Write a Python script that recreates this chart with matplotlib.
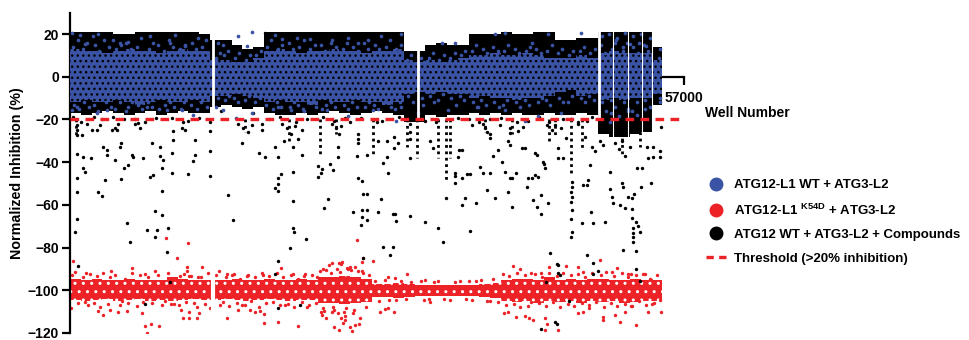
import numpy as np
import matplotlib
matplotlib.use("Agg")
import matplotlib.pyplot as plt
from matplotlib.lines import Line2D

plt.rcParams["font.family"] = ["Liberation Sans", "DejaVu Sans"]
plt.rcParams["font.weight"] = "bold"
plt.rcParams["mathtext.fontset"] = "custom"
plt.rcParams["mathtext.bf"] = "Liberation Sans:bold"
plt.rcParams["mathtext.rm"] = "Liberation Sans:bold"
plt.rcParams["hatch.linewidth"] = 1.0

BLUE = "#3a53a4"
RED = "#ec2227"

# dense clouds read as envelopes, one value per 1000-well bin (wells 0..55000)
bin_width = 1000
black_top = [21, 21, 21, 21, 20, 20, 21, 21, 21, 21, 21, 21, 20,
             17, 17, 15, 13, 14,
             21, 21, 21, 21, 21, 21, 21, 21, 21, 21, 21, 21, 21,
             12, 12,
             15, 16, 15, 15,
             20, 20, 20, 21, 20, 20, 21, 21,
             17, 17,
             18, 18,
             21, 21, 21, 21, 21,
             14]
black_bottom = [-17, -18, -17, -16, -17, -18, -17, -16, -18, -17, -16, -17, -17,
                -14, -13, -14, -15, -14,
                -17, -18, -18, -17, -18, -17, -16, -17, -18, -17, -16, -17, -18,
                -21, -21,
                -18, -19, -18, -18,
                -17, -18, -17, -18, -17, -18, -18, -17,
                -18, -18,
                -17, -18,
                -27, -28, -28, -27, -26,
                -13]
blue_top = [13, 12, 12, 11, 12, 13, 12, 12, 11, 12, 13, 12, 12,
            8, 8, 7, 7, 9,
            12, 13, 12, 11, 12, 12, 13, 12, 12, 11, 12, 12, 13,
            8, 7,
            8, 7, 8, 9,
            10, 10, 11, 10, 10, 11, 10, 9,
            9, 9,
            10, 9,
            11, 12, 11, 11, 11,
            8]
blue_bottom = [-12, -11, -12, -12, -11, -12, -13, -12, -11, -12, -12, -11, -12,
               -9, -9, -8, -9, -10,
               -12, -11, -12, -12, -13, -11, -12, -12, -11, -12, -12, -13, -12,
               -8, -7,
               -8, -7, -8, -8,
               -10, -9, -10, -10, -11, -10, -10, -9,
               -7, -6,
               -9, -8,
               -11, -10, -11, -10, -10,
               -8]
red_top = [-94.5, -95, -94.5, -95, -95, -94.5, -95, -95, -95, -94, -94.5, -95, -95,
           -95, -95, -94.5, -95, -95, -94.5, -95, -95, -94.5, -95,
           -94, -94, -93.5, -94, -94.5,
           -97, -97, -96.5, -97, -97.5, -97.5, -97.5, -97.5, -97.5, -97.5, -97, -96.5,
           -95, -94.5, -94.5, -95, -94, -95, -94.5, -95, -94.5, -94.5, -95, -95, -94.5, -95, -95]
red_bottom = [-104.5, -105, -104.5, -104, -105, -104.5, -104, -105, -104.5, -105, -104.5, -104, -104.5,
              -104.5, -104, -104.5, -105, -104.5, -104, -104.5, -105, -104.5, -104.5,
              -106, -106, -106.5, -106, -105.5,
              -103, -103, -103.5, -103, -102.5, -102.5, -102.5, -102.5, -102.5, -102.5, -103, -103.5,
              -105, -105.5, -105, -106, -105, -105.5, -105, -106, -105, -105.5, -105, -106, -105.5, -105, -105]

# vertical white gaps between plates / columns
plate_gaps = [13300, 32300, 49100]
column_gaps = [50400, 51800, 53100, 54000]

# streaky compound columns hanging below the dense band (well, lowest value)
compound_streaks = [(560, -28), (23200, -37), (28120, -36), (31270, -33), (32170, -38),
                    (34150, -38), (34900, -49), (35260, -38), (46490, -46), (51230, -37),
                    (52900, -33), (20300, -30), (44500, -31), (47500, -35), (16200, -26),
                    (24700, -27), (38500, -26), (41000, -27), (45000, -28)]

compound_hits = [
    (622, -22.5), (622, -24.8), (622, -27.5), (622, -36.1), (622, -47.2), (622, -54.2), (622, -66.4),
    (464, -72.8), (715, -88.4), (1141, -27.5), (1234, -37.4), (1234, -42.8), (1392, -44.7), (1949, -38.1),
    (1550, -22), (2014, -24.8), (2478, -24.8), (2784, -22.5), (2626, -53.8), (2942, -55.8), (3248, -48.3),
    (3090, -33), (3406, -34.5), (3461, -36.5), (3870, -25), (4176, -24), (4334, -25), (4482, -22),
    (4176, -38.9), (4640, -32.7), (4733, -31), (5039, -42.7), (5410, -41.3), (5262, -68.6), (4733, -47.8),
    (5568, -77.2), (5726, -36.6), (5874, -37.4), (6032, -22), (6283, -21.5), (6496, -24), (6802, -38),
    (7118, -71.7), (7582, -31), (7424, -47), (7730, -46), (7888, -62.7), (8046, -71.7), (7888, -74.9),
    (8510, -53.4), (8510, -64.7), (8510, -42.7), (8352, -33), (8352, -37), (8658, -39), (8974, -81.9),
    (9067, -71), (9438, -35.8), (9438, -45.2), (9586, -29.5), (9586, -25.6), (10366, -24), (10672, -25),
    (10922, -45.6), (11442, -39.4), (11600, -36.6), (11600, -29.5), (12992, -25.6), (12992, -35),
    (12992, -46.7), (14690, -55.6), (15154, -67.2), (15600, -22), (16100, -24), (16500, -26),
    (16900, -22.5), (15934, -31), (17539, -35.8), (18096, -37.5), (17818, -22), (17818, -25),
    (19024, -32.7), (19330, -37.4), (19302, -47.5), (19302, -50), (19302, -53.5), (19024, -52),
    (19581, -45.6), (19700, -22), (20100, -24), (20500, -27), (20900, -23), (21200, -29), (21500, -25),
    (19900, -30), (20700, -33), (20722, -44.4), (20722, -58), (20722, -71), (20800, -72.5),
    (20416, -80.3), (19275, -86.3), (21502, -36.6), (21901, -76), (23000, -41.7), (23400, -43),
    (23000, -46.9), (23300, -45), (23970, -57.2), (23600, -61.6), (24128, -41), (24406, -43.6),
    (24300, -22), (24700, -24), (25000, -27), (25200, -23), (24898, -33), (24898, -37.4), (26290, -63.2),
    (26754, -27), (26754, -29), (26754, -31), (26606, -36.9), (26754, -47.2), (27070, -49),
    (27100, -65.5), (27100, -62.4), (27005, -69.4), (27190, -55), (27190, -85),
    (6960, -106.6), (9300, -96), (19330, -108.4), (19020, -92.5), (21340, -107), (18100, 20.5),
    (28580, -30.3), (27530, -36.6), (27530, -54.9), (27530, -62.4), (27530, -67), (28610, -63.4),
    (28830, -57.2), (29070, -40.5), (29070, -79.5), (29390, -37.4), (29390, -30.3), (29540, -45.2),
    (29700, -83.4), (29950, -64.2), (30160, -64.2), (30000, -79.5), (30230, -67.4), (30100, -28),
    (30100, -33.4), (30470, -31), (31550, -22), (31550, -26), (31550, -29), (31550, -38), (31550, -65),
    (32940, -67.8), (33410, -30.3), (33710, -33.4), (34120, -71), (34640, -77.5), (34900, -56.9),
    (35730, -45), (35730, -46.5), (35730, -49.8), (36100, -34.5), (36380, -34.5), (36030, -37.4),
    (36350, -60), (36400, -47.5), (36660, -56.9), (36900, -45.6), (37100, -45.6), (37120, -72.2),
    (37280, -22.5), (37680, -59.2), (38050, -42.3), (38300, -22), (38500, -24), (38700, -26),
    (38350, -45.2), (38670, -53), (38980, -27), (38980, -28.5), (38980, -45.2), (39280, -36.9),
    (39440, -56.6), (39750, -34.2), (39900, -22.5), (40060, -39.7), (40370, -44.4), (40650, -30.3),
    (40830, -31.9), (40670, -54), (40830, -24), (40830, -26.3), (40830, -47.2), (41020, -47.2),
    (41040, -60.8), (41450, -45.2), (41600, -25.6), (41950, -33.4), (42220, -33.4), (42060, -23.3),
    (42380, -51.4), (42500, -47.3), (42870, -47.3), (42990, -57.7), (43150, -46), (43430, -47),
    (43310, -60.8), (43770, -64.4), (43770, -55.3), (43150, -35.6), (43340, -36.5), (43900, -39.7),
    (44000, -41), (44100, -42.8), (44390, -59.2), (44540, -82.6), (44270, -22.5), (44730, -25),
    (45000, -22.5), (45600, -24), (46000, -28.5), (45310, -33.4), (45310, -38), (45780, -38),
    (45220, -87.8), (46600, -49.1), (46600, -51.4), (46500, -53.8), (46600, -56.1), (46500, -58.5),
    (46600, -62.4), (46500, -66.6), (46600, -72.5), (46500, -74.9), (47150, -22), (47800, -28),
    (47490, -68.6), (47600, -50.6), (47980, -50.6), (48100, -48.3), (47950, -83.4), (48350, -63.2),
    (48560, -87.3), (48260, -41.3), (48560, -68.6), (48440, -33), (48720, -35), (49200, -30),
    (49500, -32), (49650, -67.8), (50110, -44.4), (50110, -52.5), (50300, -56.1), (50420, -59.2),
    (50600, -31), (51000, -34), (51500, -37), (52000, -33), (51200, -30), (51040, -60), (51500, -61.6),
    (51230, -49.8), (51320, -51.4), (51350, -81.1), (51810, -56.1), (52150, -56.6), (52150, -62),
    (52150, -66.2), (52220, -71), (52220, -73), (52220, -75), (52220, -77.2), (52520, -68),
    (52700, -70), (52900, -72.5), (52590, -81.6), (52400, -55), (52620, -42.8), (53080, -42.8),
    (52990, -51.4), (53980, -49.8), (53540, -33), (53640, -38), (54100, -32.7), (54100, -37.6),
    (54750, -35), (54750, -37.8), (54910, -23.3),
    (45280, -88.1), (48560, -92.4), (49020, -90.8), (52590, -90.2), (52900, -95.5), (44210, -96),
    (45470, -92.8), (46310, -104.9), (45000, -114.7), (45200, -115.8), (43770, -118.3), (45300, -91.8),
    (2200, -19), (5000, -20), (8000, -19.5), (11000, -20.5), (14000, -16), (17000, -17),
    (22000, -20), (25500, -19.5), (29000, -20.5), (33000, -20.5), (37000, -20), (40000, -19.5),
    (42500, -20.5), (45800, -20), (48000, -20.5), (300, -19), (1000, -21), (3000, -20), (4000, -19),
    (6000, -20), (7000, -21), (9500, -19.5), (10500, -21), (12000, -19.5), (13000, -21),
    (18500, -20), (19500, -19), (21000, -21), (23500, -19), (24500, -20.5), (26000, -21),
    (27000, -19.5), (28500, -21), (30500, -19), (34000, -21), (36000, -19.5), (38000, -21),
    (39000, -20), (41500, -21), (43500, -19), (44500, -21), (46500, -20), (47200, -21), (48500, -19),
]

wt_scatter = [
    (160, 20.5), (930, 19.7), (2160, 19), (2630, 20), (1390, 15.5), (4000, 17), (4640, 16),
    (5410, 16.5), (7450, 19), (9300, 16), (9740, 19.5), (10670, 14.5), (11900, 18), (13750, 16),
    (14220, 15), (15620, 19), (16860, 21), (16400, 14.5), (19020, 19.5), (19640, 17.5), (21100, 18),
    (22300, 17.5), (24200, 16), (25800, 18), (26700, 16), (160, -15.5), (620, -14), (2470, -17),
    (3400, -15.5), (5240, -16), (7130, -14), (9000, -15.5), (10400, -15.5), (11450, -17.7),
    (13600, -14), (14200, -15.5), (15400, -19.5), (16860, -17), (19300, -14), (20500, -15.5),
    (21700, -16), (23900, -15.5), (25800, -18.5), (27680, 17), (28900, 19), (30760, 20),
    (34500, 16), (35740, 16), (39440, 20), (40380, 20.5), (42860, 16), (44400, 20), (47480, 20.5),
    (49400, 19), (50000, 20), (50800, 18), (51500, 20.5), (52300, 19), (53000, 20), (53800, 18),
    (54750, 13), (28100, -15.5), (30760, -14), (32300, -17), (35100, -15.5), (37900, -14),
    (40380, -15.5), (43460, -18.5), (45600, -17), (46530, -20), (50200, -17), (51000, -18.5),
    (51800, -16), (52600, -18), (53400, -15), (54750, -10), (30250, -20.5), (42200, -20.5),
    (50100, -21), (50600, 16), (51300, 14), (52000, 15.5), (52800, 16), (53500, 14.5),
    (300, 14), (700, 17), (400, -13), (800, -15), (1200, 13), (1600, 16), (1300, -12), (1800, -14),
    (2300, 15), (2700, 12), (2200, -13), (2600, -16), (3200, 17), (3600, 14), (3300, -12), (3800, -14),
    (4300, 13), (4700, 15), (4200, -15), (4600, -12), (5200, 16), (5700, 13), (5400, -14), (5800, -12),
    (6200, 14), (6600, 18), (6300, -13), (6700, -15), (7300, 13), (7700, 16), (7200, -12), (7600, -14),
    (8200, 15), (8700, 12), (8300, -15), (8800, -13), (9200, 17), (9600, 14), (9300, -12), (9700, -14),
    (10200, 13), (10700, 15), (10300, -15), (10600, -12), (11300, 16), (11700, 13), (11200, -13),
    (11800, -15), (12300, 14), (12600, 17), (12200, -12), (12700, -14), (13600, 9), (13900, 11),
    (13700, -10), (14300, 10), (14700, 12), (14400, -11), (14800, -9), (15300, 9), (15700, 11),
    (15200, -10), (15600, -12), (16300, 8), (16700, 10), (16200, -11), (16600, -9), (17300, 10),
    (17700, 12), (17200, -12), (17600, -10), (18300, 14), (18700, 17), (18200, -13), (18800, -15),
    (19300, 13), (19700, 15), (19200, -12), (19600, -14), (20300, 16), (20700, 13), (20400, -14),
    (20800, -12), (21300, 14), (21700, 17), (21200, -13), (21600, -15), (22300, 13), (22700, 15),
    (22200, -12), (22800, -14), (23300, 15), (23700, 12), (23400, -15), (23800, -13), (24300, 17),
    (24700, 14), (24200, -12), (24600, -14), (25300, 13), (25700, 16), (25400, -13), (25800, -15),
    (26300, 14), (26700, 12), (26200, -12), (26600, -14), (27300, 16), (27700, 13), (27400, -14),
    (27800, -12), (28300, 15), (28700, 13), (28200, -13), (28600, -15), (29300, 14), (29700, 17),
    (29400, -12), (29800, -14), (30300, 13), (30700, 15), (30200, -15), (30600, -12), (31300, 8),
    (31700, 10), (31400, -9), (31800, -12), (32600, 9), (32900, 7), (32700, -10), (32800, -13),
    (33300, 9), (33700, 11), (33400, -9), (33800, -12), (34300, 8), (34700, 10), (34200, -11),
    (34600, -8), (35300, 9), (35700, 11), (35400, -10), (35800, -13), (36300, 10), (36700, 12),
    (36200, -9), (36600, -11), (37300, 12), (37700, 15), (37400, -12), (37800, -14), (38300, 13),
    (38700, 11), (38200, -11), (38600, -13), (39300, 14), (39700, 12), (39400, -12), (39800, -14),
    (40300, 12), (40700, 15), (40200, -13), (40600, -11), (41300, 13), (41700, 11), (41400, -12),
    (41800, -14), (42300, 12), (42700, 14), (42200, -11), (42600, -13), (43300, 13), (43700, 11),
    (43400, -12), (43800, -10), (44300, 12), (44700, 15), (44200, -11), (44600, -13), (45300, 11),
    (45700, 13), (45400, -10), (45800, -12), (46300, 10), (46700, 12), (46200, -12), (46600, -9),
    (47300, 12), (47700, 14), (47400, -10), (47800, -12), (48300, 11), (48700, 13), (48200, -9),
    (48600, -11), (49300, 15), (49700, 11), (49400, -12), (49800, -16), (50300, 13), (50700, 17),
    (50200, -11), (50600, -14), (51300, 12), (51700, 16), (51400, -12), (51800, -15), (52300, 14),
    (52700, 11), (52200, -16), (52600, -12), (53300, 15), (53700, 12), (53400, -11), (53800, -14),
    (54700, 9), (54800, -12),
]

k54d_scatter = [
    (306, -86.1), (100, -108.4), (5725, -89.7), (9900, -85), (10900, -88.9), (12220, -88.9),
    (10230, -93.3), (10860, -90.8), (11060, -93.5), (11900, -94), (2600, -109.5), (3090, -111.6),
    (3710, -109), (4490, -110.3), (5260, -109.5), (6650, -110.8), (6960, -116.7), (7130, -120),
    (7500, -116), (8230, -116.7), (9650, -106.5), (10300, -109), (10450, -113), (11060, -110),
    (11060, -113), (11820, -113), (12000, -110.5), (12990, -108.4), (14540, -92.4), (15000, -93),
    (16400, -93.3), (17930, -92.8), (14540, -113), (15600, -109), (16700, -109), (17130, -110.3),
    (17600, -109.5), (18000, -111), (18000, -115.5), (19330, -114.7), (21190, -116.7), (19600, -89.5),
    (20700, -92.4), (21700, -93.4), (22900, -93.8), (23350, -111.6), (24280, -87), (25200, -87.5),
    (25850, -90.2), (26470, -89), (27090, -90.8), (24280, -110), (25200, -113), (25350, -115.5),
    (25970, -117), (26440, -116.3), (26900, -113), (24900, -110.8), (25500, -112), (8880, -75.3),
    (10920, -77.7), (26600, -76.4), (27070, -86.9), (25210, -86.9), (27200, -85), (28150, -86.1),
    (31250, -92.4), (30160, -94.4), (41140, -88.6), (41760, -90.2), (42840, -91.7), (43700, -91.7),
    (46030, -88.6), (47170, -89), (47630, -91.3), (49180, -85.8), (50300, -91.3), (51800, -92.4),
    (52100, -92.4), (53360, -92.4), (53980, -95.2), (28770, -110), (29540, -108.4), (29240, -108.9),
    (30100, -110), (33410, -105.6), (40280, -110.8), (40650, -110), (41450, -112.3), (42220, -112),
    (42990, -114), (42600, -113), (44080, -113), (44270, -115.8), (44080, -118.6), (45310, -118.6),
    (47170, -110.8), (47630, -110), (49490, -112.3), (49490, -114), (50580, -111.6), (51040, -114.7),
    (52590, -116.3), (53670, -110), (54030, -106.5), (54910, -110.3), (51500, -110), (52100, -107.5),
    (23300, -110), (23800, -113), (24500, -117), (25000, -118.5), (25500, -114), (26200, -119),
    (26800, -116), (24000, -88), (25000, -87), (26000, -89), (23500, -90), (1500, -92), (3800, -91),
    (7000, -92.5), (13800, -91), (16000, -107), (20000, -107), (22000, -108), (29500, -94),
    (33000, -95), (37000, -95.5), (39000, -105), (44500, -89), (48200, -108.5), (50800, -89.5),
    (200, -93), (700, -106), (500, -91.5), (1200, -94), (1700, -107), (1400, -105.5), (1900, -92.5),
    (2200, -106), (2500, -93.5), (2800, -108), (3100, -92), (3500, -106.5), (3700, -94), (4200, -93),
    (4600, -107), (4800, -105), (5100, -94.5), (5400, -106), (5800, -92), (6200, -107.5), (6500, -93),
    (6800, -105.5), (7200, -94), (7600, -106), (7900, -91), (8200, -93), (8500, -107), (8800, -105),
    (9100, -92), (9400, -106.5), (9700, -94.5), (10100, -107), (10600, -92.5), (10800, -105.5),
    (11200, -93.5), (11500, -106), (11800, -108), (12200, -94), (12500, -106.5), (12800, -92),
    (13600, -93), (13900, -107), (14200, -105.5), (14500, -94), (14800, -107.5), (15200, -92.5),
    (15500, -106), (15800, -94.5), (16200, -107), (16500, -93), (16800, -105), (17200, -94),
    (17500, -108), (17800, -92), (18200, -106), (18500, -93.5), (18800, -105.5), (19200, -92),
    (19500, -107), (19800, -94), (20200, -106.5), (20500, -93), (20800, -108), (21200, -94.5),
    (21500, -105.5), (21800, -92.5), (22200, -107), (22500, -93), (22800, -106), (23200, -91),
    (23500, -108.5), (23800, -90.5), (23600, -109.5), (24200, -92), (24500, -109), (24800, -90),
    (24400, -108), (25100, -91.5), (25400, -110), (25700, -89.5), (25600, -108.5), (26100, -90.5),
    (26400, -109), (26700, -91), (26300, -110.5), (27200, -92), (27500, -108), (27800, -93),
    (28300, -95.5), (28700, -105), (29200, -95), (29600, -104.5), (30300, -104.5), (30700, -95.5),
    (31200, -104), (31700, -96), (32600, -95.5), (32900, -104.5), (33300, -104), (33800, -96),
    (34200, -95.5), (34700, -104), (35300, -104.5), (35700, -96), (36200, -95.5), (36800, -104),
    (37300, -104.5), (37700, -95.5), (38200, -95), (38700, -105), (39300, -94.5), (39700, -105.5),
    (40200, -92.5), (40500, -107), (40800, -93.5), (41200, -106.5), (41500, -92), (41800, -108),
    (42200, -93), (42500, -107.5), (42800, -105.5), (43200, -92.5), (43500, -106), (43800, -94),
    (44200, -107.5), (44500, -92), (44800, -105.5), (45200, -93.5), (45500, -108), (45800, -92),
    (46200, -106.5), (46500, -93), (46800, -107.5), (47200, -92.5), (47500, -106), (47800, -94),
    (48200, -107), (48500, -92), (48800, -105.5), (49300, -93), (49600, -108), (49800, -91.5),
    (50200, -106), (50500, -93.5), (50800, -107.5), (51200, -92), (51500, -106.5), (51800, -94),
    (52200, -107.5), (52500, -93), (52800, -105), (53200, -92.5), (53500, -107), (53800, -94.5),
    (54200, -106), (54500, -93), (54800, -104.5),
]

threshold = -20
x_max = 57000

fig = plt.figure(figsize=(9.7, 3.4), dpi=100)
ax = fig.add_axes([70 / 970, 7 / 340, 614 / 970, 320.3 / 340])

edges = np.arange(len(black_top) + 1) * bin_width


def step_fill(lo, hi, **kw):
    lo = list(lo) + [lo[-1]]
    hi = list(hi) + [hi[-1]]
    ax.fill_between(edges, lo, hi, step="post", linewidth=0, **kw)


# ATG12-L1 K54D (red, bottom band)
step_fill(red_bottom, red_top, facecolor=RED, edgecolor="white", hatch="..", zorder=2)
rw, rv = np.array(k54d_scatter).T
ax.scatter(rw, rv, s=6, color=RED, linewidths=0, zorder=2)

# compounds (black)
step_fill(black_bottom, black_top, facecolor="black", zorder=2.2)
sw, sl = np.array(compound_streaks).T
ax.vlines(sw, threshold, sl, color="black", linewidth=2.0, linestyles=(0, (1, 1.3)), zorder=2.2)
cw, cv = np.array(compound_hits).T
ax.scatter(cw, cv, s=6, color="black", linewidths=0, zorder=2.3)

# ATG12-L1 WT (blue)
step_fill(blue_bottom, blue_top, facecolor=BLUE, edgecolor="black", hatch="...", zorder=3)
bw, bv = np.array(wt_scatter).T
ax.scatter(bw, bv, s=7, color=BLUE, linewidths=0, zorder=3)

# plate gaps
ax.vlines(plate_gaps, -20, 22, color="white", linewidth=2.0, zorder=3.5)
ax.vlines(plate_gaps[:1], -110, -90, color="white", linewidth=3.0, zorder=3.5)
ax.vlines(column_gaps, -28, 22, color="white", linewidth=0.8, zorder=3.5)

ax.plot([0, x_max], [threshold, threshold], color=RED, linewidth=2.4,
        dashes=(2.6, 1.9), zorder=5)

ax.set_xlim(0, x_max)
ax.set_ylim(-120, 30)
ax.set_yticks([-120, -100, -80, -60, -40, -20, 0, 20])
ax.set_xticks([x_max])
ax.set_xticklabels(["57000"])
for s in ["top", "right"]:
    ax.spines[s].set_visible(False)
ax.spines["bottom"].set_position(("data", 0))
ax.spines["bottom"].set_zorder(1)
ax.spines["left"].set_linewidth(1.6)
ax.spines["bottom"].set_linewidth(1.6)
ax.tick_params(axis="both", width=1.6, length=6, labelsize=10)
ax.tick_params(axis="y", pad=2)
ax.tick_params(axis="x", pad=4)
for lab in ax.get_xticklabels() + ax.get_yticklabels():
    lab.set_fontweight("bold")

fig.text(17 / 970, 1 - 173 / 340, "Normalized Inhibition (%)", rotation=90,
         ha="center", va="center", fontsize=10.3, fontweight="bold")
fig.text(705 / 970, 1 - 113 / 340, "Well Number", ha="left", va="center",
         fontsize=10, fontweight="bold")

handles = [
    Line2D([], [], marker="o", ls="none", color=BLUE, markersize=9),
    Line2D([], [], marker="o", ls="none", color=RED, markersize=9),
    Line2D([], [], marker="o", ls="none", color="black", markersize=9),
    Line2D([], [], color=RED, linewidth=2.4, dashes=(2.2, 1.6)),
]
labels = [
    "ATG12-L1 WT + ATG3-L2",
    r"ATG12-L1 $^{\mathbf{K54D}}$ + ATG3-L2",
    "ATG12 WT + ATG3-L2 + Compounds",
    "Threshold (>20% inhibition)",
]
fig.legend(handles, labels, loc="upper left", bbox_to_anchor=(706 / 970, 1 - 179 / 340),
           frameon=False, handlelength=1.5, handletextpad=0.6,
           labelspacing=0.85, borderpad=0, borderaxespad=0,
           prop={"weight": "bold", "size": 9.5})

fig.savefig("out.png", dpi=100)
